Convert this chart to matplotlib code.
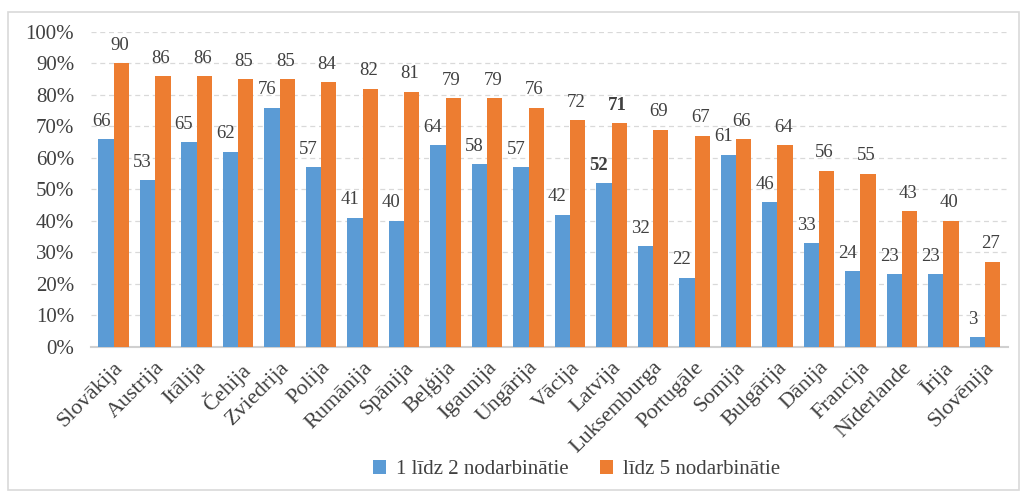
import matplotlib.pyplot as plt
import matplotlib.ticker as ticker
from matplotlib.patches import Rectangle
import numpy as np

plt.rcParams['font.family'] = ['Liberation Serif', 'DejaVu Serif']

# Daten
valstis = ['Slovākija', 'Austrija', 'Itālija', 'Čehija', 'Zviedrija', 'Polija',
           'Rumānija', 'Spānija', 'Beļģija', 'Igaunija', 'Ungārija', 'Vācija',
           'Latvija', 'Luksemburga', 'Portugāle', 'Somija', 'Bulgārija', 'Dānija',
           'Francija', 'Nīderlande', 'Īrija', 'Slovēnija']
mazi = [66, 53, 65, 62, 76, 57, 41, 40, 64, 58, 57, 42, 52, 32, 22, 61, 46, 33, 24, 23, 23, 3]
lieli = [90, 86, 86, 85, 85, 84, 82, 81, 79, 79, 76, 72, 71, 69, 67, 66, 64, 56, 55, 43, 40, 27]
nosaukumi = ['1 līdz 2 nodarbinātie', 'līdz 5 nodarbinātie']

zils = '#5B9BD5'
oranzs = '#ED7D31'
teksts = '#404040'

fig = plt.figure(figsize=(10.21, 4.92), dpi=100)
ax = fig.add_axes([0.089, 0.295, 0.898, 0.64])

# rāmis ap diagrammu
fig.patches.append(Rectangle((0.008, 0.004), 0.99, 0.972, transform=fig.transFigure,
                             fill=False, edgecolor='#d9d9d9', linewidth=1.2))

x = np.arange(len(valstis))
w = 0.37
b1 = ax.bar(x - w / 2, mazi, w, color=zils, label=nosaukumi[0], zorder=3)
b2 = ax.bar(x + w / 2, lieli, w, color=oranzs, label=nosaukumi[1], zorder=3)

for i in range(len(valstis)):
    bold = 'bold' if valstis[i] == 'Latvija' else 'normal'
    ax.text(x[i] - w / 2 - 0.12, mazi[i] + 3, str(mazi[i]), ha='center', va='bottom',
            fontsize=13.5, color=teksts, fontweight=bold)
    ax.text(x[i] + w / 2 - 0.05, lieli[i] + 3, str(lieli[i]), ha='center', va='bottom',
            fontsize=13.5, color=teksts, fontweight=bold)

ax.set_ylim(0, 100)
ax.set_xlim(-0.55, len(valstis) - 0.45)
ax.yaxis.set_major_locator(ticker.MultipleLocator(10))
ax.yaxis.set_major_formatter(ticker.FuncFormatter(lambda v, pos: f'{int(v)}%'))
ax.grid(axis='y', color='#d9d9d9', linestyle=(0, (4, 3)), linewidth=0.9, zorder=0)

for s in ['top', 'right', 'left']:
    ax.spines[s].set_visible(False)
ax.spines['bottom'].set_color('#d0d0d0')
ax.spines['bottom'].set_linewidth(1.5)

ax.set_xticks(x)
ax.set_xticklabels(valstis, rotation=45, ha='right', rotation_mode='anchor')
ax.tick_params(axis='y', length=0, labelsize=15, colors=teksts, pad=12)
ax.tick_params(axis='x', length=0, labelsize=16, colors=teksts, pad=8)

fig.legend(handles=[b1, b2], loc='center', bbox_to_anchor=(0.565, 0.045), ncol=2,
           frameon=False, fontsize=15, handlelength=0.6, handleheight=0.6,
           columnspacing=1.5, handletextpad=0.5, labelcolor=teksts)

fig.savefig('out.png', dpi=100)
